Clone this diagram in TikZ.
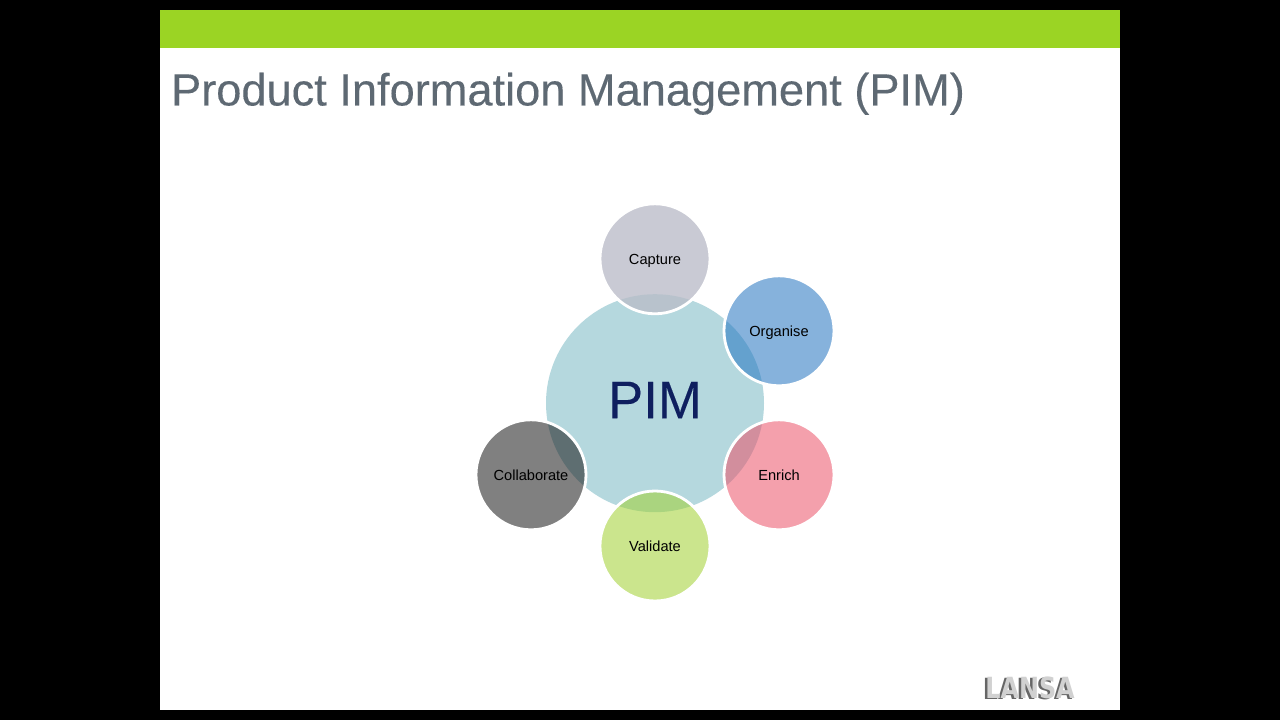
\documentclass[tikz,border=0pt]{standalone}
\usepackage{fontspec}
\setmainfont{Liberation Sans}
\newfontfamily\logofont{DejaVu Sans}
\newfontfamily\headfont[FakeBold=.2]{Liberation Sans}
\definecolor{barcol}{HTML}{9BD424}
\definecolor{titlecol}{HTML}{5E6973}
\definecolor{hubcol}{HTML}{B5D8DE}
\definecolor{pimcol}{HTML}{0F1F5F}
\definecolor{capturecol}{HTML}{BABCC8}
\definecolor{organisecol}{HTML}{2374C1}
\definecolor{enrichcol}{HTML}{EB5269}
\definecolor{validatecol}{HTML}{A2D131}
\definecolor{collabcol}{HTML}{181818}
\tikzset{
	petal/.style={circle,minimum size=2.75cm,inner sep=0pt,draw=white,line width=.07cm,fill opacity=.55,draw opacity=1,text opacity=1,text height=.3cm,text depth=.03cm,font=\fontsize{10.4}{12}\selectfont,text=black},
}
\begin{document}
\begin{tikzpicture}
	\useasboundingbox (0,0) rectangle (32,18);
	% slide
	\fill[black] (0,0) rectangle (32,18);
	\fill[white] (4,.25) rectangle (28,17.75);
	\fill[barcol] (4,16.8) rectangle (28,17.75);
	\node[anchor=west,inner sep=0pt,text=titlecol,font=\headfont\fontsize{32.15}{38}\selectfont] (title) at (4.27,15.655) {Product Information Management (PIM)};
	% hub
	\node[circle,minimum size=5.45cm,inner sep=0pt,fill=hubcol,text=pimcol,text height=.8cm,text depth=.05cm,font=\headfont\fontsize{37.6}{46}\selectfont] (pim) at (16.375,7.92) {PIM};
	% petals
	\node[petal,fill=capturecol,fill opacity=.78] (capture) at (16.375,11.53) {Capture};
	\node[petal,fill=organisecol] (organise) at (19.475,9.73) {Organise};
	\node[petal,fill=enrichcol] (enrich) at (19.475,6.13) {Enrich};
	\node[petal,fill=validatecol] (validate) at (16.375,4.35) {Validate};
	\node[petal,fill=collabcol] (collaborate) at (13.275,6.13) {Collaborate};
	% logo
	\node[text=black!60,font=\logofont\bfseries\fontsize{17}{20}\selectfont,xscale=1,yscale=1.22] (logoshade) at (25.69,.78) {LANSA};
	\node[text=black!18,font=\logofont\bfseries\fontsize{17}{20}\selectfont,xscale=1,yscale=1.22] (logo) at (25.75,.81) {LANSA};
\end{tikzpicture}
\end{document}
